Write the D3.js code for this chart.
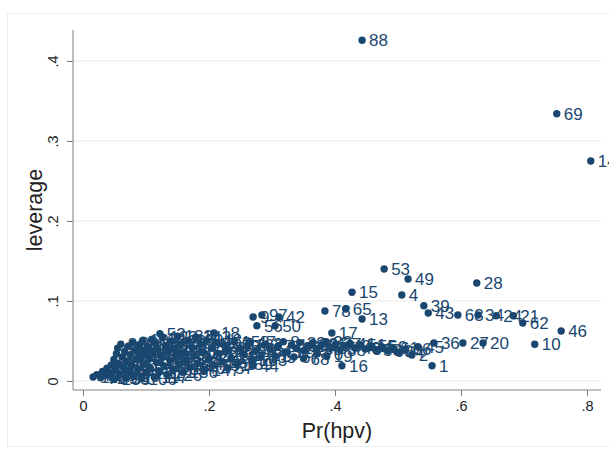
<!DOCTYPE html>
<html>
<head>
<meta charset="utf-8">
<script src="https://cdn.jsdelivr.net/npm/d3@7"></script>
<style>
  html, body { margin: 0; padding: 0; background: #ffffff; }
  svg { display: block; font-family: "Liberation Sans", Arial, sans-serif; }
</style>
</head>
<body>
<svg id="chart" width="609" height="450"></svg>
<script>
// Leverage against predicted probability, each point labelled by observation number.

// Points with clearly readable labels
const keyObs = [88, 69, 14, 53, 49, 28, 15, 4, 39, 43,
                78, 65, 13, 63, 34, 24, 21, 62, 46, 10,
                20, 27, 36, 45, 2, 1, 16, 17, 19, 32,
                97, 9, 42, 56, 50, 18, 52, 47, 44, 57,
                110, 103];
const keyPr = [.443, .752, .806, .478, .516, .625, .427, .506, .541, .548,
               .384, .417, .443, .595, .627, .656, .683, .698, .759, .717,
               .635, .603, .557, .532, .522, .554, .411, .395, .387, .321,
               .284, .270, .311, .276, .305, .208, .122, .265, .270, .230,
               .016, .050];
const keyLev = [.426, .334, .275, .140, .1275, .1225, .111, .1075, .094, .085,
                .0875, .090, .0775, .0825, .0825, .0815, .0815, .0725, .0625, .046,
                .0475, .0475, .0475, .0425, .0325, .019, .019, .060, .031, .036,
                .0825, .080, .080, .069, .069, .060, .059, .049, .019, .016,
                .005, .003];

// Middle band of observations
const bandObs = [3, 5, 6, 7, 8, 11, 12, 22, 23, 25,
                 26, 29, 30, 31, 33, 35, 37, 38, 40, 41,
                 48, 51, 54, 55, 58, 59, 60, 61, 64, 66,
                 67, 68, 70];
const bandPr = [.290, .297, .305, .310, .318, .324, .331, .338, .344, .350,
                .357, .364, .371, .378, .386, .393, .401, .408, .416, .424,
                .432, .440, .448, .457, .465, .474, .483, .492, .501, .512,
                .335, .350, .372];
const bandLev = [.046, .040, .031, .044, .049, .036, .045, .041, .048, .038,
                 .044, .047, .040, .045, .049, .042, .046, .039, .044, .047,
                 .041, .045, .040, .044, .039, .043, .038, .042, .036, .040,
                 .030, .028, .034];

// Dense low-probability cluster
const clusterObs = [71, 72, 73, 74, 75, 76, 77, 79, 80, 81,
                    82, 83, 84, 85, 86, 87, 89, 90, 91, 92,
                    93, 94, 95, 96, 98, 99, 100, 101, 102, 104,
                    105, 106, 107, 108, 109, 111, 112, 113, 114, 115,
                    116, 117, 118, 119, 120, 121, 122, 123, 124, 125,
                    126, 127, 128, 129, 130, 131, 132, 133, 134, 135,
                    136, 137, 138, 139, 140, 141, 142, 143, 144, 145,
                    146, 147, 148, 149, 150, 151, 152, 153, 154, 155,
                    156, 157, 158, 159, 160, 161, 162, 163, 164, 165];
const clusterPr = [.022, .028, .031, .035, .038, .042, .045, .046, .049, .051,
                   .053, .055, .056, .058, .060, .062, .064, .066, .068, .069,
                   .071, .073, .075, .077, .079, .081, .083, .085, .087, .089,
                   .091, .093, .095, .097, .099, .101, .103, .105, .107, .109,
                   .111, .113, .115, .117, .119, .121, .124, .126, .128, .131,
                   .133, .135, .138, .140, .143, .145, .148, .150, .153, .156,
                   .158, .161, .164, .167, .170, .173, .176, .179, .182, .186,
                   .189, .193, .196, .200, .204, .208, .212, .216, .221, .225,
                   .230, .235, .240, .245, .250, .256, .262, .268, .275, .282];
const clusterLev = [.008, .004, .012, .007, .016, .010, .020, .004, .027, .014,
                    .034, .041, .022, .008, .046, .030, .017, .037, .004, .025,
                    .043, .011, .033, .020, .048, .006, .039, .027, .014, .045,
                    .031, .003, .051, .021, .037, .010, .043, .028, .016, .052,
                    .034, .005, .047, .023, .040, .012, .031, .055, .019, .044,
                    .008, .037, .026, .050, .015, .041, .030, .056, .021, .046,
                    .011, .035, .026, .051, .017, .042, .031, .055, .022, .046,
                    .036, .014, .051, .028, .041, .020, .048, .034, .024, .044,
                    .038, .029, .049, .022, .040, .033, .045, .027, .038, .030];

const xTicks = [0, .2, .4, .6, .8];
const yTicks = [0, .1, .2, .3, .4];

const navy = "#1a476f";

const rows = [];
[[keyObs, keyPr, keyLev], [bandObs, bandPr, bandLev], [clusterObs, clusterPr, clusterLev]]
  .forEach(([o, p, l]) => o.forEach((id, i) => rows.push({ id, pr: p[i], lev: l[i] })));
rows.sort((a, b) => a.id - b.id);

const svg = d3.select("#chart");

// faint outer frame of the graph region
svg.append("rect")
  .attr("x", 7.5).attr("y", 13.5).attr("width", 620).attr("height", 433)
  .attr("fill", "#ffffff").attr("stroke", "#eeeeee");

const x = d3.scaleLinear().domain([0, .8]).range([83, 587]);
const y = d3.scaleLinear().domain([0, .4]).range([381, 61]);

const plotLeft = 73, plotRight = 601, plotTop = 30, plotBottom = 390;

const fmt = d => d === 0 ? "0" : d3.format(".1f")(d).replace(/^0/, "");

// horizontal grid lines
svg.append("g")
  .selectAll("line")
  .data(yTicks)
  .join("line")
  .attr("x1", plotLeft).attr("x2", plotRight)
  .attr("y1", d => y(d)).attr("y2", d => y(d))
  .attr("stroke", "#eaeaea").attr("stroke-width", 1);

// y axis
const yAxis = svg.append("g")
  .attr("transform", `translate(${plotLeft},0)`)
  .call(d3.axisLeft(y).tickValues(yTicks).tickFormat(fmt).tickSize(6).tickPadding(8));
yAxis.select(".domain").remove();
yAxis.append("line")
  .attr("x1", 0).attr("x2", 0).attr("y1", plotTop).attr("y2", plotBottom)
  .attr("stroke", "#7f7f7f");
yAxis.selectAll(".tick line").attr("stroke", "#7f7f7f");
yAxis.selectAll(".tick text")
  .attr("fill", "#222")
  .attr("font-size", 14.5)
  .attr("text-anchor", "middle")
  .attr("x", 0).attr("dy", 0)
  .attr("transform", "translate(-15,0) rotate(-90)");

// x axis
const xAxis = svg.append("g")
  .attr("transform", `translate(0,${plotBottom})`)
  .call(d3.axisBottom(x).tickValues(xTicks).tickFormat(fmt).tickSize(6).tickPadding(5));
xAxis.select(".domain").remove();
xAxis.append("line")
  .attr("x1", plotLeft).attr("x2", plotRight).attr("y1", 0).attr("y2", 0)
  .attr("stroke", "#7f7f7f");
xAxis.selectAll(".tick line").attr("stroke", "#7f7f7f");
xAxis.selectAll(".tick text").attr("fill", "#222").attr("font-size", 14.5);

// axis titles
svg.append("text")
  .attr("x", (plotLeft + plotRight) / 2).attr("y", 438)
  .attr("text-anchor", "middle").attr("font-size", 21.5).attr("fill", "#222")
  .text("Pr(hpv)");
svg.append("text")
  .attr("transform", `translate(42,${(plotTop + plotBottom) / 2}) rotate(-90)`)
  .attr("text-anchor", "middle").attr("font-size", 21.5).attr("fill", "#222")
  .text("leverage");

// markers and their labels
const pts = svg.append("g");
pts.selectAll("circle")
  .data(rows)
  .join("circle")
  .attr("cx", d => x(d.pr)).attr("cy", d => y(d.lev))
  .attr("r", 3.7).attr("fill", navy);
pts.selectAll("text")
  .data(rows)
  .join("text")
  .attr("x", d => x(d.pr) + 7).attr("y", d => y(d.lev))
  .attr("dy", "0.36em")
  .attr("font-size", 17).attr("fill", navy)
  .text(d => d.id);
</script>
</body>
</html>
